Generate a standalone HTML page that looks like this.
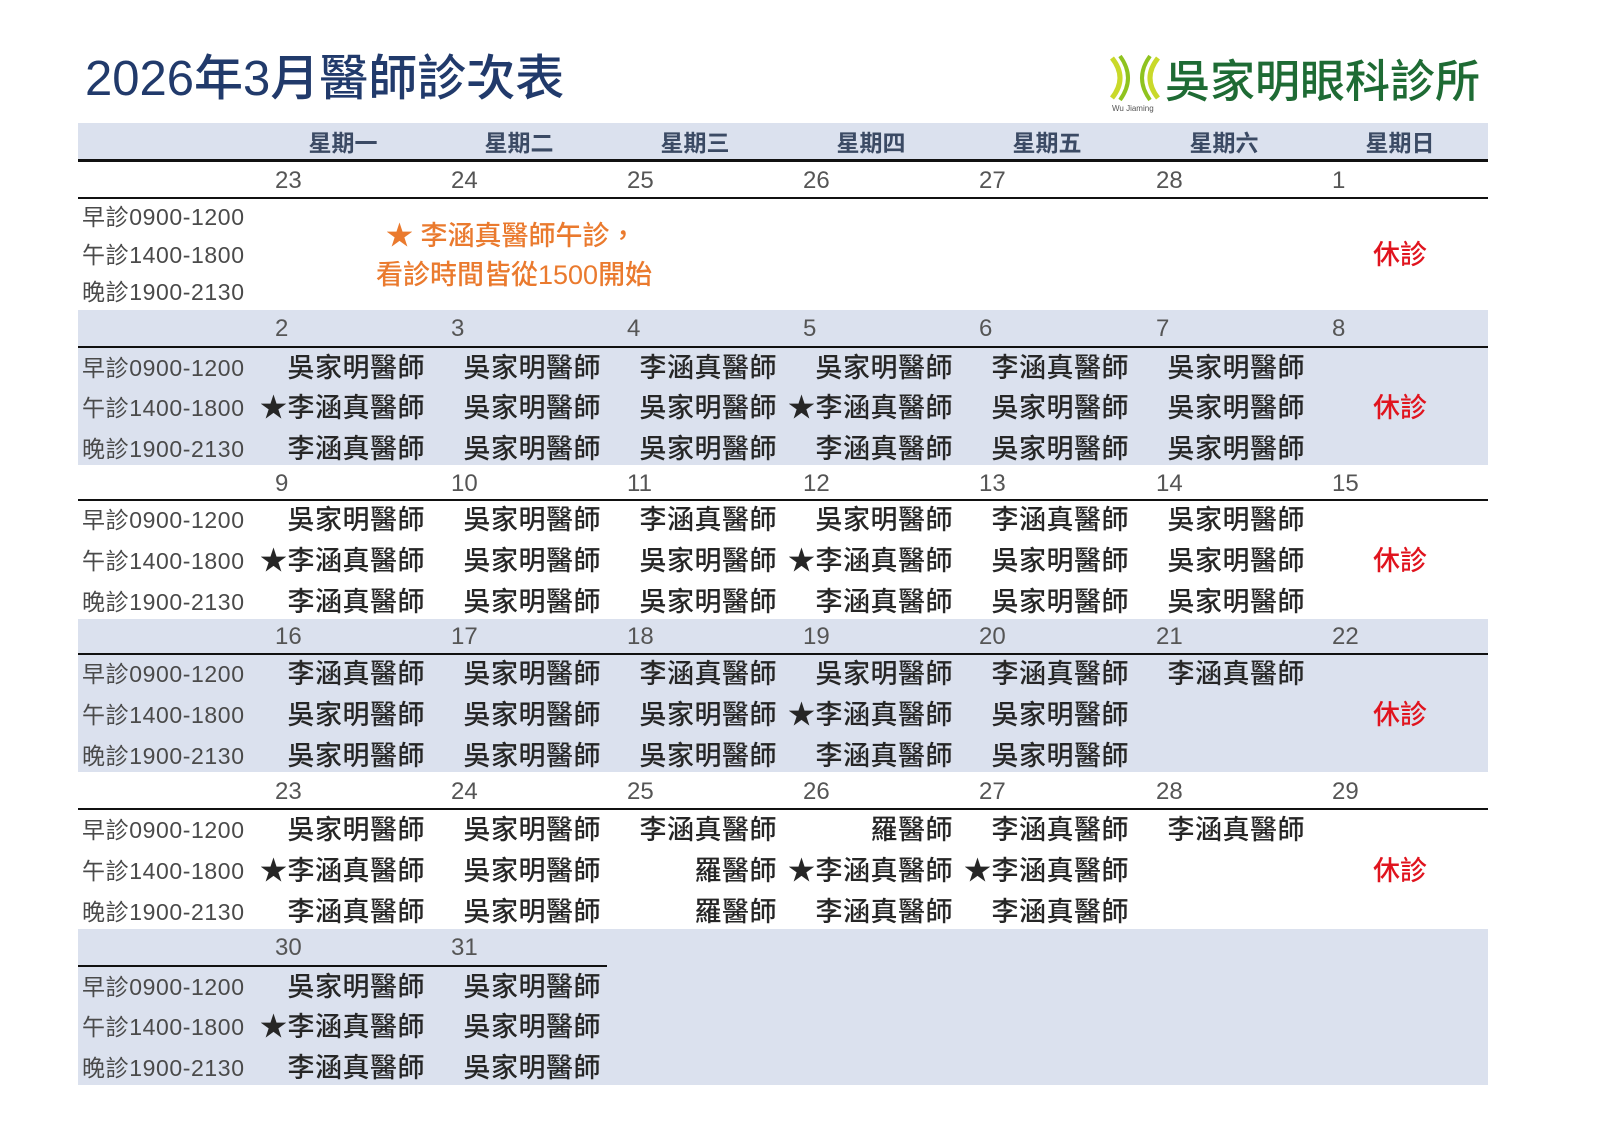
<!DOCTYPE html>
<html><head><meta charset="utf-8">
<style>
*{margin:0;padding:0;box-sizing:border-box}
body{width:1600px;height:1131px;background:#fff;position:relative;overflow:hidden;font-family:"Liberation Sans","Noto Sans CJK TC",sans-serif}
.a{position:absolute;white-space:nowrap}
.band{position:absolute;left:78px;width:1410px;background:#dbe1ee}
.ln{position:absolute;left:78px;width:1410px;height:2px;background:#111}
.t{position:absolute;left:82px;font-size:23px;line-height:28px;color:#4a4a4a;letter-spacing:0.6px}
.d{position:absolute;font-size:24px;line-height:28px;color:#555}
.n{position:absolute;width:176px;text-align:right;font-size:27px;line-height:30px;color:#262626;letter-spacing:0.5px;font-weight:500}
.w{position:absolute;top:128px;width:176px;text-align:center;font-size:23px;line-height:30px;color:#3b4a64;font-weight:bold}
.r{position:absolute;left:1360px;width:80px;text-align:center;font-size:27px;line-height:30px;color:#e0141e;font-weight:500}
</style></head><body>
<div class="a" style="left:85px;top:50px;font-size:49px;line-height:58px;color:#213a6b;font-weight:500">2026年3月醫師診次表</div>
<svg class="a" style="left:1106px;top:52px" width="60" height="56" viewBox="0 0 60 56">
<path d="M6 6 Q22 26 6 46" stroke="#c9d92a" stroke-width="5" fill="none"/>
<path d="M14 4 Q30 26 14 48" stroke="#8fc31f" stroke-width="4" fill="none"/>
<path d="M44 4 Q28 26 44 48" stroke="#8fc31f" stroke-width="4" fill="none"/>
<path d="M52 6 Q36 26 52 46" stroke="#c9d92a" stroke-width="5" fill="none"/>
</svg>
<div class="a" style="left:1112px;top:104px;font-size:8px;color:#555">Wu Jiaming</div>
<div class="a" style="left:1165px;top:54px;font-size:45px;line-height:56px;color:#1e6b34;font-weight:500">吳家明眼科診所</div>

<div class="band" style="top:123px;height:37px"></div>
<div class="ln" style="top:159px;height:3px"></div>
<div class="w" style="left:255px">星期一</div><div class="w" style="left:431px">星期二</div><div class="w" style="left:607px">星期三</div><div class="w" style="left:783px">星期四</div><div class="w" style="left:959px">星期五</div><div class="w" style="left:1136px">星期六</div><div class="w" style="left:1312px">星期日</div>

<div class="band" style="top:310px;height:155px"></div>
<div class="band" style="top:619px;height:153px"></div>
<div class="band" style="top:929px;height:156px"></div>

<!-- W0 -->
<div class="d" style="left:275px;top:167px">23</div><div class="d" style="left:451px;top:167px">24</div><div class="d" style="left:627px;top:167px">25</div><div class="d" style="left:803px;top:167px">26</div><div class="d" style="left:979px;top:167px">27</div><div class="d" style="left:1156px;top:167px">28</div><div class="d" style="left:1332px;top:167px">1</div>
<div class="ln" style="top:197px"></div>
<div class="t" style="top:203px">早診0900-1200</div><div class="t" style="top:241px">午診1400-1800</div><div class="t" style="top:278px">晚診1900-2130</div>
<div class="a" style="left:386px;top:219px;font-size:27px;line-height:34px;color:#ea7a2e;font-weight:500">★ 李涵真醫師午診，</div>
<div class="a" style="left:376px;top:258px;font-size:27px;line-height:34px;color:#ea7a2e;font-weight:500">看診時間皆從1500開始</div>
<div class="r" style="top:240px">休診</div>

<!-- W1 -->
<div class="d" style="left:275px;top:315px">2</div><div class="d" style="left:451px;top:315px">3</div><div class="d" style="left:627px;top:315px">4</div><div class="d" style="left:803px;top:315px">5</div><div class="d" style="left:979px;top:315px">6</div><div class="d" style="left:1156px;top:315px">7</div><div class="d" style="left:1332px;top:315px">8</div>
<div class="ln" style="top:346px"></div>
<div class="t" style="top:354px">早診0900-1200</div><div class="t" style="top:394px">午診1400-1800</div><div class="t" style="top:435px">晚診1900-2130</div>
<div class="n" style="left:249px;top:353px">吳家明醫師</div><div class="n" style="left:425px;top:353px">吳家明醫師</div><div class="n" style="left:601px;top:353px">李涵真醫師</div><div class="n" style="left:777px;top:353px">吳家明醫師</div><div class="n" style="left:953px;top:353px">李涵真醫師</div><div class="n" style="left:1129px;top:353px">吳家明醫師</div>
<div class="n" style="left:249px;top:393px">★李涵真醫師</div><div class="n" style="left:425px;top:393px">吳家明醫師</div><div class="n" style="left:601px;top:393px">吳家明醫師</div><div class="n" style="left:777px;top:393px">★李涵真醫師</div><div class="n" style="left:953px;top:393px">吳家明醫師</div><div class="n" style="left:1129px;top:393px">吳家明醫師</div><div class="r" style="top:393px">休診</div>
<div class="n" style="left:249px;top:434px">李涵真醫師</div><div class="n" style="left:425px;top:434px">吳家明醫師</div><div class="n" style="left:601px;top:434px">吳家明醫師</div><div class="n" style="left:777px;top:434px">李涵真醫師</div><div class="n" style="left:953px;top:434px">吳家明醫師</div><div class="n" style="left:1129px;top:434px">吳家明醫師</div>

<!-- W2 -->
<div class="d" style="left:275px;top:470px">9</div><div class="d" style="left:451px;top:470px">10</div><div class="d" style="left:627px;top:470px">11</div><div class="d" style="left:803px;top:470px">12</div><div class="d" style="left:979px;top:470px">13</div><div class="d" style="left:1156px;top:470px">14</div><div class="d" style="left:1332px;top:470px">15</div>
<div class="ln" style="top:499px"></div>
<div class="t" style="top:506px">早診0900-1200</div><div class="t" style="top:547px">午診1400-1800</div><div class="t" style="top:588px">晚診1900-2130</div>
<div class="n" style="left:249px;top:505px">吳家明醫師</div><div class="n" style="left:425px;top:505px">吳家明醫師</div><div class="n" style="left:601px;top:505px">李涵真醫師</div><div class="n" style="left:777px;top:505px">吳家明醫師</div><div class="n" style="left:953px;top:505px">李涵真醫師</div><div class="n" style="left:1129px;top:505px">吳家明醫師</div>
<div class="n" style="left:249px;top:546px">★李涵真醫師</div><div class="n" style="left:425px;top:546px">吳家明醫師</div><div class="n" style="left:601px;top:546px">吳家明醫師</div><div class="n" style="left:777px;top:546px">★李涵真醫師</div><div class="n" style="left:953px;top:546px">吳家明醫師</div><div class="n" style="left:1129px;top:546px">吳家明醫師</div><div class="r" style="top:546px">休診</div>
<div class="n" style="left:249px;top:587px">李涵真醫師</div><div class="n" style="left:425px;top:587px">吳家明醫師</div><div class="n" style="left:601px;top:587px">吳家明醫師</div><div class="n" style="left:777px;top:587px">李涵真醫師</div><div class="n" style="left:953px;top:587px">吳家明醫師</div><div class="n" style="left:1129px;top:587px">吳家明醫師</div>

<!-- W3 -->
<div class="d" style="left:275px;top:623px">16</div><div class="d" style="left:451px;top:623px">17</div><div class="d" style="left:627px;top:623px">18</div><div class="d" style="left:803px;top:623px">19</div><div class="d" style="left:979px;top:623px">20</div><div class="d" style="left:1156px;top:623px">21</div><div class="d" style="left:1332px;top:623px">22</div>
<div class="ln" style="top:653px"></div>
<div class="t" style="top:660px">早診0900-1200</div><div class="t" style="top:701px">午診1400-1800</div><div class="t" style="top:742px">晚診1900-2130</div>
<div class="n" style="left:249px;top:659px">李涵真醫師</div><div class="n" style="left:425px;top:659px">吳家明醫師</div><div class="n" style="left:601px;top:659px">李涵真醫師</div><div class="n" style="left:777px;top:659px">吳家明醫師</div><div class="n" style="left:953px;top:659px">李涵真醫師</div><div class="n" style="left:1129px;top:659px">李涵真醫師</div>
<div class="n" style="left:249px;top:700px">吳家明醫師</div><div class="n" style="left:425px;top:700px">吳家明醫師</div><div class="n" style="left:601px;top:700px">吳家明醫師</div><div class="n" style="left:777px;top:700px">★李涵真醫師</div><div class="n" style="left:953px;top:700px">吳家明醫師</div><div class="r" style="top:700px">休診</div>
<div class="n" style="left:249px;top:741px">吳家明醫師</div><div class="n" style="left:425px;top:741px">吳家明醫師</div><div class="n" style="left:601px;top:741px">吳家明醫師</div><div class="n" style="left:777px;top:741px">李涵真醫師</div><div class="n" style="left:953px;top:741px">吳家明醫師</div>

<!-- W4 -->
<div class="d" style="left:275px;top:778px">23</div><div class="d" style="left:451px;top:778px">24</div><div class="d" style="left:627px;top:778px">25</div><div class="d" style="left:803px;top:778px">26</div><div class="d" style="left:979px;top:778px">27</div><div class="d" style="left:1156px;top:778px">28</div><div class="d" style="left:1332px;top:778px">29</div>
<div class="ln" style="top:808px"></div>
<div class="t" style="top:816px">早診0900-1200</div><div class="t" style="top:857px">午診1400-1800</div><div class="t" style="top:898px">晚診1900-2130</div>
<div class="n" style="left:249px;top:815px">吳家明醫師</div><div class="n" style="left:425px;top:815px">吳家明醫師</div><div class="n" style="left:601px;top:815px">李涵真醫師</div><div class="n" style="left:777px;top:815px">羅醫師</div><div class="n" style="left:953px;top:815px">李涵真醫師</div><div class="n" style="left:1129px;top:815px">李涵真醫師</div>
<div class="n" style="left:249px;top:856px">★李涵真醫師</div><div class="n" style="left:425px;top:856px">吳家明醫師</div><div class="n" style="left:601px;top:856px">羅醫師</div><div class="n" style="left:777px;top:856px">★李涵真醫師</div><div class="n" style="left:953px;top:856px">★李涵真醫師</div><div class="r" style="top:856px">休診</div>
<div class="n" style="left:249px;top:897px">李涵真醫師</div><div class="n" style="left:425px;top:897px">吳家明醫師</div><div class="n" style="left:601px;top:897px">羅醫師</div><div class="n" style="left:777px;top:897px">李涵真醫師</div><div class="n" style="left:953px;top:897px">李涵真醫師</div>

<!-- W5 -->
<div class="d" style="left:275px;top:934px">30</div><div class="d" style="left:451px;top:934px">31</div>
<div class="ln" style="top:965px;width:529px"></div>
<div class="t" style="top:973px">早診0900-1200</div><div class="t" style="top:1013px">午診1400-1800</div><div class="t" style="top:1054px">晚診1900-2130</div>
<div class="n" style="left:249px;top:972px">吳家明醫師</div><div class="n" style="left:425px;top:972px">吳家明醫師</div>
<div class="n" style="left:249px;top:1012px">★李涵真醫師</div><div class="n" style="left:425px;top:1012px">吳家明醫師</div>
<div class="n" style="left:249px;top:1053px">李涵真醫師</div><div class="n" style="left:425px;top:1053px">吳家明醫師</div>
</body></html>
